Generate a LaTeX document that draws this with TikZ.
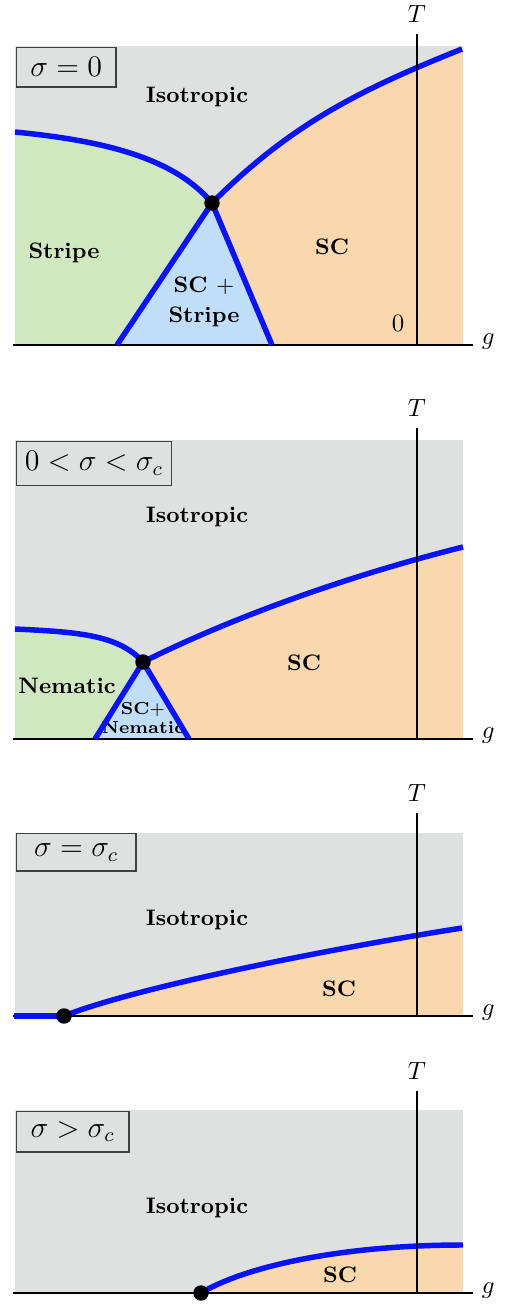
\documentclass[tikz,border=0pt]{standalone}
\usepackage{amsmath, amssymb}
\usepackage{xcolor}
\usepackage{tikz}
\usetikzlibrary{positioning}

\definecolor{isogray}{RGB}{223,224,224}
\definecolor{stripegreen}{RGB}{207,232,192}
\definecolor{mixblue}{RGB}{193,222,249}
\definecolor{scorange}{RGB}{249,216,174}
\definecolor{lineblue}{RGB}{8,18,252}

\begin{document}
\begin{tikzpicture}[
  x=0.4016pt, y=0.4016pt,
  phase/.style={font=\small\bfseries, align=center},
  tag/.style={draw=black!75, fill=isogray, line width=0.6pt, font=\large,
              inner sep=4pt, anchor=north west},
  boundary/.style={draw=lineblue, line width=2.2pt},
  axis/.style={line width=0.7pt},
  crit/.style={circle, fill=black, inner sep=0pt, minimum size=6.2pt}
]
  \useasboundingbox (0,0) rectangle (510,1307);

  % Panel 1: sigma = 0
  \begin{scope}[shift={(0,962)}]
    \fill[isogray] (15,0) rectangle (463,299);
    \coordinate (tp1) at (212,142);
    \fill[stripegreen] (15,0) -- (15,213) .. controls (95,205) and (172,190) .. (tp1) -- (117,0) -- cycle;
    \fill[mixblue] (tp1) -- (117,0) -- (272,0) -- cycle;
    \fill[scorange] (tp1) .. controls (292,222) and (362,256) .. (463,296) -- (463,0) -- (272,0) -- cycle;

    \node[tag, minimum width=39.8pt] (tag1) at (16,298) {$\sigma=0$};
    \node[phase] (iso1) at (197,248) {Isotropic};
    \node[phase] (stripe1) at (64,92) {Stripe};
    \node[phase] (sc1) at (332,98) {SC};
    \node[phase] (mix1) at (204,43) {SC $+$\\[1pt]Stripe};
    \node (zero1) at (398,22) {$0$};

    % Axes
    \coordinate (gstart1) at (13,0);
    \coordinate (gend1) at (473,0);
    \coordinate (Tbot1) at (417,0);
    \coordinate (Ttop1) at (417,311);
    \draw[axis] (gstart1) -- (gend1);
    \node[anchor=base west] (glab1) at (gend1) {$g$};

    % Phase boundaries
    \draw[boundary] (15,213) .. controls (95,205) and (172,190) .. (tp1);
    \draw[boundary] (tp1) .. controls (292,222) and (362,256) .. (462,296);
    \draw[boundary] (tp1) -- (117,0);
    \draw[boundary] (tp1) -- (272,0);

    \draw[axis] (Tbot1) -- (Ttop1);
    \node[above=1pt of Ttop1] (Tlab1) {$T$};
    \node[crit] (dot1) at (tp1) {};
  \end{scope}

  % Panel 2: 0 < sigma < sigma_c
  \begin{scope}[shift={(0,568)}]
    \fill[isogray] (15,0) rectangle (463,299);
    \coordinate (tp2) at (143,77);
    \fill[stripegreen] (15,0) -- (15,110) .. controls (75,107) and (118,105) .. (tp2) -- (95,0) -- cycle;
    \fill[mixblue] (tp2) -- (95,0) -- (189,0) -- cycle;
    \fill[scorange] (tp2) .. controls (243,127) and (363,167) .. (463,192) -- (463,0) -- (189,0) -- cycle;

    \node[tag, inner xsep=3.3pt] (tag2) at (16,298) {$0<\sigma<\sigma_c$};
    \node[phase] (iso2) at (197,222) {Isotropic};
    \node[phase] (nem2) at (67,53) {Nematic};
    \node[phase] (sc2) at (304,76) {SC};
    \node[phase, font=\scriptsize\bfseries] (mix2) at (143,21) {SC$+$\\Nematic};

    % Axes
    \coordinate (gstart2) at (13,0);
    \coordinate (gend2) at (473,0);
    \coordinate (Tbot2) at (417,0);
    \coordinate (Ttop2) at (417,311);
    \draw[axis] (gstart2) -- (gend2);
    \node[anchor=base west] (glab2) at (gend2) {$g$};

    % Phase boundaries
    \draw[boundary] (15,110) .. controls (75,107) and (118,105) .. (tp2);
    \draw[boundary] (tp2) .. controls (243,127) and (363,167) .. (463,192);
    \draw[boundary] (tp2) -- (95,0);
    \draw[boundary] (tp2) -- (189,0);

    \draw[axis] (Tbot2) -- (Ttop2);
    \node[above=1pt of Ttop2] (Tlab2) {$T$};
    \node[crit] (dot2) at (tp2) {};
  \end{scope}

  % Panel 3: sigma = sigma_c
  \begin{scope}[shift={(0,291)}]
    \fill[isogray] (15,0) rectangle (463,183);
    \coordinate (cp3) at (64,0);
    \fill[scorange] (cp3) .. controls (134,28) and (322,66) .. (463,88) -- (463,0) -- cycle;

    \node[tag, minimum width=47.8pt] (tag3) at (16,183) {$\sigma=\sigma_c$};
    \node[phase] (iso3) at (197,96) {Isotropic};
    \node[phase] (sc3) at (339,27) {SC};

    % Axes
    \coordinate (gstart3) at (13,0);
    \coordinate (gend3) at (473,0);
    \coordinate (Tbot3) at (417,0);
    \coordinate (Ttop3) at (417,203);
    \draw[axis] (gstart3) -- (gend3);
    \node[anchor=base west] (glab3) at (gend3) {$g$};

    % Phase boundary
    \draw[boundary] (14,0) -- (cp3);
    \draw[boundary] (cp3) .. controls (134,28) and (322,66) .. (462,88);

    \draw[axis] (Tbot3) -- (Ttop3);
    \node[above=1pt of Ttop3] (Tlab3) {$T$};
    \node[crit] (dot3) at (cp3) {};
  \end{scope}

  % Panel 4: sigma > sigma_c
  \begin{scope}[shift={(0,14)}]
    \fill[isogray] (15,0) rectangle (463,183);
    \coordinate (cp4) at (201,0);
    \fill[scorange] (cp4) .. controls (246,27) and (343,48) .. (463,48) -- (463,0) -- cycle;

    \node[tag, minimum width=45pt] (tag4) at (16,182) {$\sigma>\sigma_c$};
    \node[phase] (iso4) at (197,85) {Isotropic};
    \node[phase] (sc4) at (340,18) {SC};

    % Axes
    \coordinate (gstart4) at (13,0);
    \coordinate (gend4) at (473,0);
    \coordinate (Tbot4) at (417,0);
    \coordinate (Ttop4) at (417,202);
    \draw[axis] (gstart4) -- (gend4);
    \node[anchor=base west] (glab4) at (gend4) {$g$};

    % Phase boundary
    \draw[boundary] (cp4) .. controls (246,27) and (343,48) .. (463,48);

    \draw[axis] (Tbot4) -- (Ttop4);
    \node[above=1pt of Ttop4] (Tlab4) {$T$};
    \node[crit] (dot4) at (cp4) {};
  \end{scope}
\end{tikzpicture}
\end{document}
